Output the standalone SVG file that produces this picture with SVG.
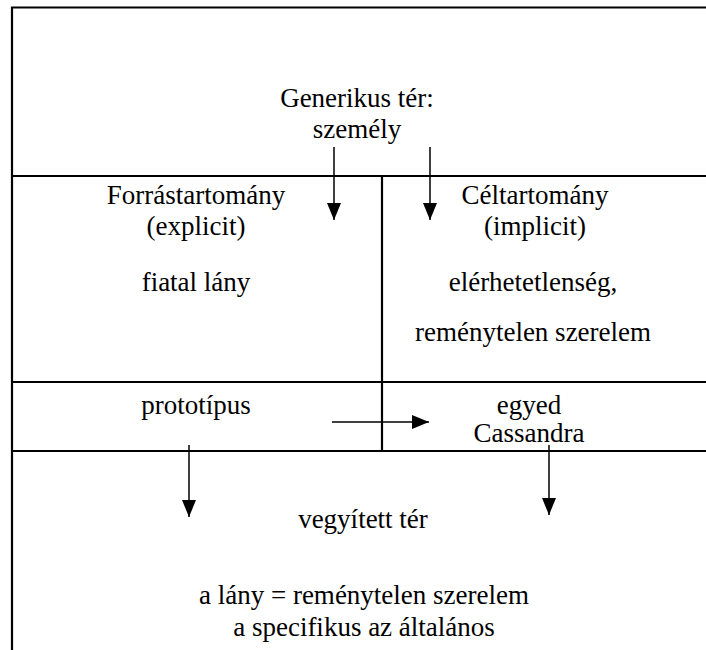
<svg xmlns="http://www.w3.org/2000/svg" width="706" height="650" viewBox="0 0 706 650">
<style>
.ln{stroke:#000;stroke-width:2.2;fill:none}
.ar{stroke:#000;stroke-width:1.5;fill:none}
.t{font-family:'Liberation Serif','Times New Roman',serif;font-size:27px;fill:#000;text-anchor:middle}
</style>
<defs>
<marker id="ah" viewBox="0 0 17 14" refX="17" refY="7" markerWidth="17" markerHeight="14" markerUnits="userSpaceOnUse" orient="auto">
<path d="M0,0 L17,7 L0,14 Z" fill="#000"/>
</marker>
</defs>
<rect width="706" height="650" fill="#fff"/>
<g id="frame">
<path class="ln" d="M12,650 V7.5 H706"/>
<path class="ln" d="M12,176 H706"/>
<path class="ln" d="M382,176 V451"/>
<path class="ln" d="M12,382 H706"/>
<path class="ln" d="M12,451 H706"/>
</g>
<g id="generic" class="t">
<text x="357" y="107">Generikus tér:</text>
<text x="357" y="138">személy</text>
</g>
<g id="source" class="t">
<text x="196" y="204">Forrástartomány</text>
<text x="196" y="235">(explicit)</text>
<text x="196" y="291">fiatal lány</text>
</g>
<g id="target" class="t">
<text x="535" y="204">Céltartomány</text>
<text x="535" y="235">(implicit)</text>
<text x="533" y="291">elérhetetlenség,</text>
<text x="533" y="341">reménytelen szerelem</text>
</g>
<g id="prototype" class="t">
<text x="196" y="414">prototípus</text>
</g>
<g id="instance" class="t">
<text x="529" y="414">egyed</text>
<text x="529" y="442">Cassandra</text>
</g>
<g id="blend" class="t">
<text x="363" y="528">vegyített tér</text>
<text x="364" y="604">a lány = reménytelen szerelem</text>
<text x="364" y="636">a specifikus az általános</text>
</g>
<g id="connectors">
<line class="ar" x1="334" y1="147" x2="334" y2="220" marker-end="url(#ah)"/>
<line class="ar" x1="430" y1="147" x2="430" y2="220" marker-end="url(#ah)"/>
<line class="ar" x1="332" y1="422" x2="429" y2="422" marker-end="url(#ah)"/>
<line class="ar" x1="189" y1="445" x2="189" y2="517" marker-end="url(#ah)"/>
<line class="ar" x1="549" y1="445" x2="549" y2="515" marker-end="url(#ah)"/>
</g>
</svg>
